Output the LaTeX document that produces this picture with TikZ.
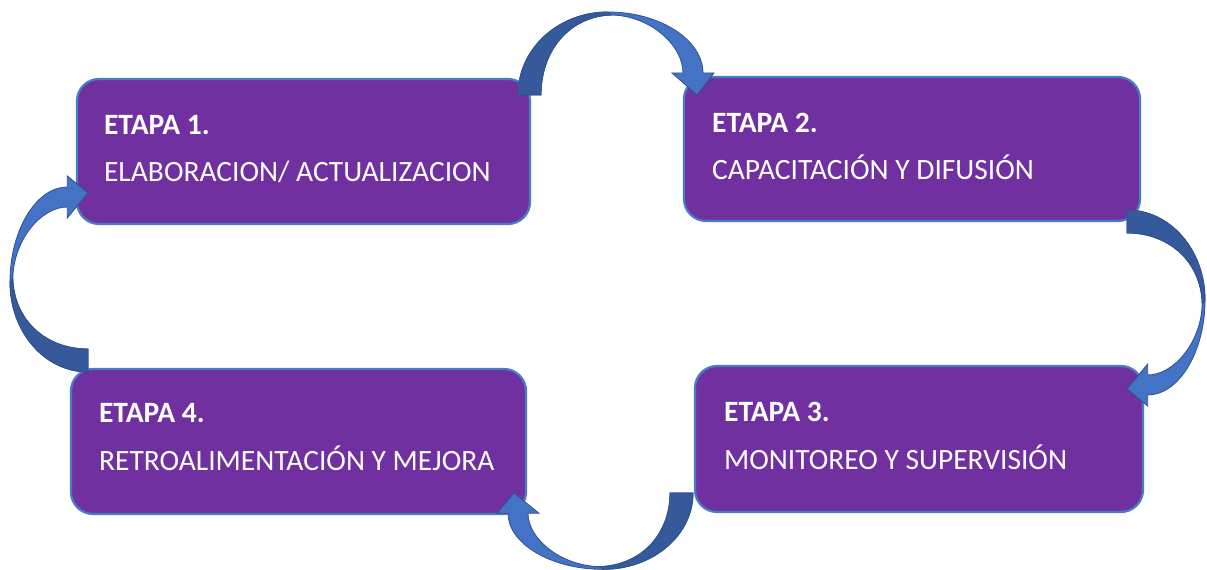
\documentclass[tikz,border=0pt]{standalone}
\usepackage{fontspec}
\setmainfont{Carlito}
\definecolor{stagepurple}{HTML}{7030A0}
\definecolor{boxblue}{HTML}{4A7BC8}
\definecolor{arrlight}{HTML}{4472C4}
\definecolor{arrdark}{HTML}{35599A}
\definecolor{arrline}{HTML}{2F528F}
\begin{document}
\begin{tikzpicture}[x=1pt,y=1pt,
  stagebox/.style={draw=boxblue, line width=2.2pt, fill=stagepurple, rounded corners=22pt, inner sep=0pt},
  stagetitle/.style={anchor=base west, inner sep=0pt, text=white, font=\fontsize{29.5}{34}\selectfont\bfseries},
  stagetext/.style={anchor=base west, inner sep=0pt, text=white, font=\fontsize{29.5}{34}\selectfont},
  pics/cycarrow/.style={code={
    \fill[arrlight, draw=arrline, line width=0.8pt] (-90,0) .. controls (-90,46) and (-50,83) .. (0,83)
      .. controls (52,83) and (95,55) .. (95,22) -- (106,22) -- (89,0) -- (64,22) -- (75,22)
      .. controls (75,50) and (42,79) .. (4,80) .. controls (-38,79) and (-67,45) .. (-67,0) -- cycle;
    \fill[arrdark, draw=arrline, line width=0.8pt] (-90,0) .. controls (-90,46) and (-50,83) .. (0,83)
      -- (4,80) .. controls (-38,79) and (-67,45) .. (-67,0) -- cycle;
  }}]
\useasboundingbox (0,0) rectangle (1207,570);

\node[stagebox, minimum width=453pt, minimum height=145pt] (e1) at (303.5,418.5) {};
\node[stagebox, minimum width=456pt, minimum height=144pt] (e2) at (912,421) {};
\node[stagebox, minimum width=448pt, minimum height=146pt] (e3) at (919,131) {};
\node[stagebox, minimum width=455pt, minimum height=145pt] (e4) at (298.5,128.5) {};

\node[stagetitle] (t1) at ([shift={(28,-57)}]e1.north west) {ETAPA 1.};
\node[stagetext]  (s1) at ([shift={(28,-104)}]e1.north west) {ELABORACION/ ACTUALIZACION};
\node[stagetitle] (t2) at ([shift={(29,-57)}]e2.north west) {ETAPA 2.};
\node[stagetext]  (s2) at ([shift={(29,-104)}]e2.north west) {CAPACITACIÓN Y DIFUSIÓN};
\node[stagetitle] (t3) at ([shift={(30,-57)}]e3.north west) {ETAPA 3.};
\node[stagetext]  (s3) at ([shift={(30,-105)}]e3.north west) {MONITOREO Y SUPERVISIÓN};
\node[stagetitle] (t4) at ([shift={(29,-55)}]e4.north west) {ETAPA 4.};
\node[stagetext]  (s4) at ([shift={(29,-103)}]e4.north west) {RETROALIMENTACIÓN Y MEJORA};

\pic[transform shape, shift={(608,475)}] {cycarrow};
\pic[transform shape, shift={(1127,270)}, rotate=-90, yscale=0.94] {cycarrow};
\pic[transform shape, shift={(603,77)}, rotate=180, yscale=0.92] {cycarrow};
\pic[transform shape, shift={(88,288)}, rotate=90, yscale=0.94] {cycarrow};
\end{tikzpicture}
\end{document}
